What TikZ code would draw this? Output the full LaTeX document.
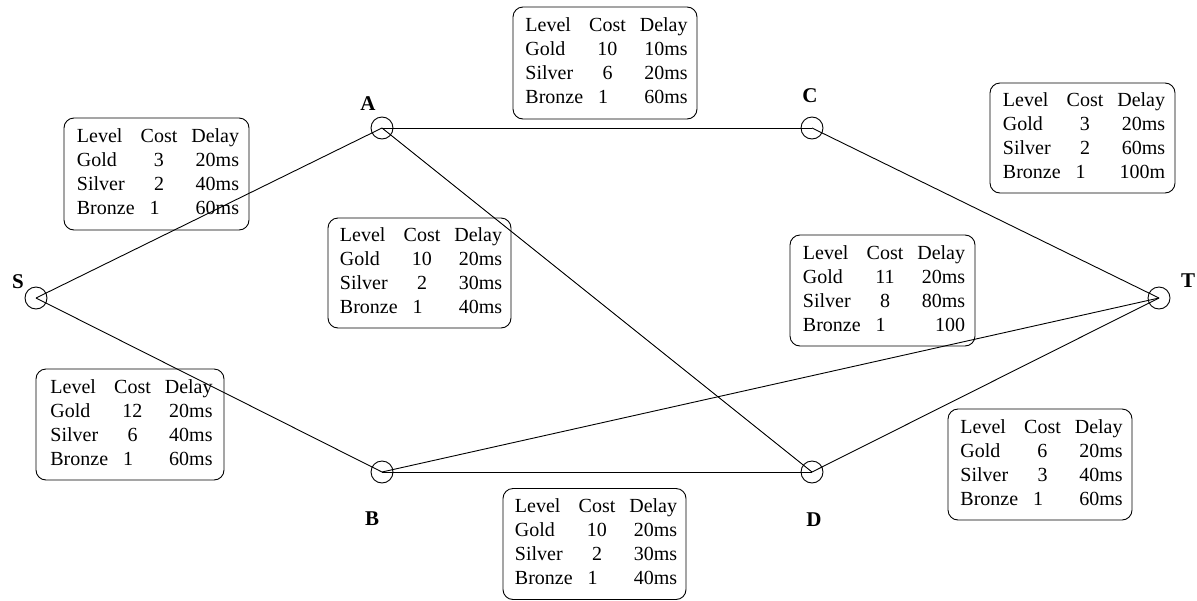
\documentclass[tikz,border=0pt]{standalone}
\usepackage{fontspec}
\setmainfont{Liberation Serif}
\begin{document}
\begin{tikzpicture}[x=1pt,y=-1pt,
  vert/.style={circle,draw,line width=0.9pt,minimum size=22pt,inner sep=0pt},
  lbl/.style={font=\fontsize{21}{24}\selectfont\bfseries,inner sep=0pt},
  edge/.style={line width=0.9pt},
  qbox/.style={draw,rounded corners=10pt,line width=0.9pt,inner sep=0pt,
    font=\fontsize{20}{24}\selectfont,align=left}]
\useasboundingbox (0,0) rectangle (1197,600);
\newcommand{\qtab}[6]{\hspace{3pt}\begin{tabular}{@{}l@{\hspace{6pt}}c@{\hspace{14pt}}r@{}}Level & Cost & Delay\hspace{7pt}\\ Gold & #1 & #2\\ Silver & #3 & #4\\ Bronze & \multicolumn{1}{l@{\hspace{14pt}}}{\hspace{3pt}#5} & #6\end{tabular}}
% vertex centres
\coordinate (s) at (36,298);
\coordinate (a) at (382,128);
\coordinate (c) at (812,128);
\coordinate (t) at (1159,298);
\coordinate (b) at (382,472);
\coordinate (d) at (812,472);
% edges
\draw[edge] (s) -- (a);
\draw[edge] (s) -- (b);
\draw[edge] (a) -- (c);
\draw[edge] (a) -- (d);
\draw[edge] (c) -- (t);
\draw[edge] (b) -- (d);
\draw[edge] (b) -- (t);
\draw[edge] (d) -- (t);
% vertices
\node[vert] (S) at (s) {};
\node[vert] (A) at (a) {};
\node[vert] (C) at (c) {};
\node[vert] (T) at (t) {};
\node[vert] (B) at (b) {};
\node[vert] (D) at (d) {};
% labels
\node[lbl] (lS) at (18,282) {S};
\node[lbl] (lA) at (368,104) {A};
\node[lbl] (lC) at (810,96) {C};
\node[lbl] (lT) at (1188,281) {T};
\node[lbl] (lB) at (372,519) {B};
\node[lbl] (lD) at (814,520) {D};
% QoS boxes
\node[qbox,minimum width=185pt,minimum height=112pt] (qSA) at (156.5,174) {\qtab{3}{20ms}{2}{40ms}{1}{60ms}};
\node[qbox,minimum width=184pt,minimum height=112pt] (qAC) at (605,63) {\qtab{10}{10ms}{6}{20ms}{1}{60ms}};
\node[qbox,minimum width=185pt,minimum height=110pt] (qCT) at (1082.5,138) {\qtab{3}{20ms}{2}{60ms}{1}{100m}};
\node[qbox,minimum width=183pt,minimum height=110pt] (qAD) at (419.5,273) {\qtab{10}{20ms}{2}{30ms}{1}{40ms}};
\node[qbox,minimum width=185pt,minimum height=111pt] (qBT) at (882.5,290.5) {\qtab{11}{20ms}{8}{80ms}{1}{100}};
\node[qbox,minimum width=188pt,minimum height=111pt] (qSB) at (130,424.5) {\qtab{12}{20ms}{6}{40ms}{1}{60ms}};
\node[qbox,minimum width=183pt,minimum height=111pt] (qBD) at (594.5,544) {\qtab{10}{20ms}{2}{30ms}{1}{40ms}};
\node[qbox,minimum width=184pt,minimum height=111pt] (qDT) at (1040,464.5) {\qtab{6}{20ms}{3}{40ms}{1}{60ms}};
\end{tikzpicture}
\end{document}
